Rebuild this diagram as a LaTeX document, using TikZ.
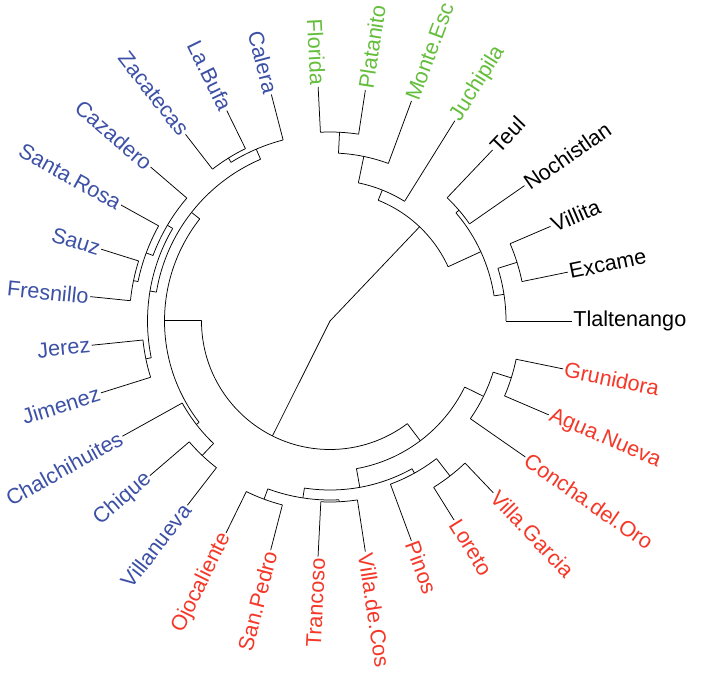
\documentclass[tikz,border=0pt]{standalone}
\usepackage{fontspec}
\setmainfont{Liberation Sans}
\usepackage{xcolor}
\definecolor{grpblue}{RGB}{60,80,165}
\definecolor{grpgreen}{RGB}{100,190,60}
\definecolor{grpred}{RGB}{245,55,40}

\begin{document}
\begin{tikzpicture}[
  x=1pt, y=1pt,
  font=\fontsize{21.6}{26}\selectfont,
  br/.style   = {draw=black, line width=0.75pt, line join=round},
  labR/.style = {anchor=west, inner sep=1.5pt},
  labL/.style = {anchor=east, inner sep=1.5pt},
  blk/.style  = {text=black},
  grn/.style  = {text=grpgreen},
  blu/.style  = {text=grpblue},
  rd/.style   = {text=grpred},
]
\useasboundingbox (-330,-356) rectangle (373,321);

\newcommand{\treearc}[3]{% #1 = radius, #2 = first angle, #3 = last angle
  \draw[br] (#2:#1) arc[start angle=#2, end angle=#3, radius=#1];%
}
\newcommand{\treestem}[3]{% #1 = angle, #2 = inner radius, #3 = outer radius
  \draw[br] (#1:#2) -- (#1:#3);%
}

\coordinate (root) at (0,0);

% ======================= root and the two halves =======================
\treestem{46.45}{0}{130}
\treestem{243.4}{0}{128.5}
\treearc{130}{24.68}{68.23}
\treearc{128.5}{179.8}{307.0}

% ======================= black + green ================================
\foreach \ang/\ri/\ro in {24.68/130/166, 8.71/166/176, 17.42/176/196,
    40.65/166/170, 68.23/130/141, 78.39/141/168, 87.10/168/189}
  \treestem{\ang}{\ri}{\ro};
\foreach \r/\p/\q in {166/8.71/40.65, 176/0/17.42, 196/11.61/23.23,
    170/34.84/46.45, 141/58.06/78.39, 168/69.68/87.10, 189/81.29/92.90}
  \treearc{\r}{\p}{\q};

% ======================= blue =========================================
\foreach \ang/\ri/\ro in {179.8/128.5/165.5, 141.9/165.5/176, 113.23/176/187,
    121.94/187/192, 170.56/176/182.5, 149.52/182.5/188.7, 159.68/188.7/196,
    168.39/196/200.6, 191.61/182.5/188, 217.74/165.5/169, 226.45/169/185.5}
  \treestem{\ang}{\ri}{\ro};
\foreach \r/\p/\q in {165.5/141.9/217.74, 176/113.23/170.56, 187/104.52/121.94,
    192/116.13/127.74, 182.5/149.52/191.61, 188.7/139.35/159.68,
    196/150.97/168.39, 200.6/162.58/174.19, 188/185.81/197.42,
    169/209.03/226.45, 185.5/220.65/232.26}
  \treearc{\r}{\p}{\q};

% ======================= red ==========================================
\foreach \ang/\ri/\ro in {307.0/128.5/150, 280.16/150/169, 261.29/169/179,
    249.68/179/190, 272.90/179/181, 299.03/169/174, 307.74/174/196,
    333.87/150/171, 342.58/171/190}
  \treestem{\ang}{\ri}{\ro};
\foreach \r/\p/\q in {150/280.16/333.87, 169/261.29/299.03, 179/249.68/272.90,
    190/243.87/255.48, 181/267.10/278.71, 174/290.32/307.74,
    196/301.94/313.55, 171/325.16/342.58, 190/336.77/348.39}
  \treearc{\r}{\p}{\q};

% ======================= tips, right half =============================
\foreach \i/\k/\rp/\rt/\col/\lab in {
    0/tla/176/241.7/blk/Tlaltenango, 1/exc/196/242.8/blk/Excame,
    2/vil/196/240/blk/Villita, 3/noc/170/237/blk/Nochistlan,
    4/teu/170/236/blk/Teul, 5/juc/141/236/grn/Juchipila,
    6/mon/168/234.6/grn/Monte.Esc, 7/pla/189/233.6/grn/Platanito,
    24/vdc/181/233.3/rd/Villa.de.Cos, 25/pin/174/234.3/rd/Pinos,
    26/lor/196/234.5/rd/Loreto, 27/vga/196/237/rd/Villa.Garcia,
    28/cdo/171/238/rd/Concha.del.Oro, 29/agn/190/238/rd/Agua.Nueva,
    30/gru/190/238/rd/Grunidora} {
  \pgfmathsetmacro\ang{\i*360/31}
  \coordinate (t-\k) at (\ang:\rt);
  \draw[br] (\ang:\rp) -- (t-\k);
  \node[labR, \col, rotate=\ang] (l-\k) at (t-\k) {\lab};
}

% ======================= tips, left half ==============================
\foreach \i/\k/\rp/\rt/\col/\lab in {
    8/flo/189/234.3/grn/Florida, 9/cal/187/234/blu/Calera,
    10/lbu/192/234.3/blu/La.Bufa, 11/zac/192/236/blu/Zacatecas,
    12/caz/188.7/236.4/blu/Cazadero, 13/sro/196/239/blu/Santa.Rosa,
    14/sau/200.6/239.8/blu/Sauz, 15/fre/200.6/241/blu/Fresnillo,
    16/jer/188/239.5/blu/Jerez, 17/jim/188/240/blu/Jimenez,
    18/cha/169/237.4/blu/Chalchihuites, 19/chq/185.5/237.3/blu/Chique,
    20/vln/185.5/233/blu/Villanueva, 21/ojo/190/236/rd/Ojocaliente,
    22/spe/190/236.7/rd/San.Pedro, 23/tra/181/236/rd/Trancoso} {
  \pgfmathsetmacro\ang{\i*360/31}
  \pgfmathsetmacro\flip{\ang-180}
  \coordinate (t-\k) at (\ang:\rt);
  \draw[br] (\ang:\rp) -- (t-\k);
  \node[labL, \col, rotate=\flip] (l-\k) at (t-\k) {\lab};
}

\end{tikzpicture}
\end{document}
